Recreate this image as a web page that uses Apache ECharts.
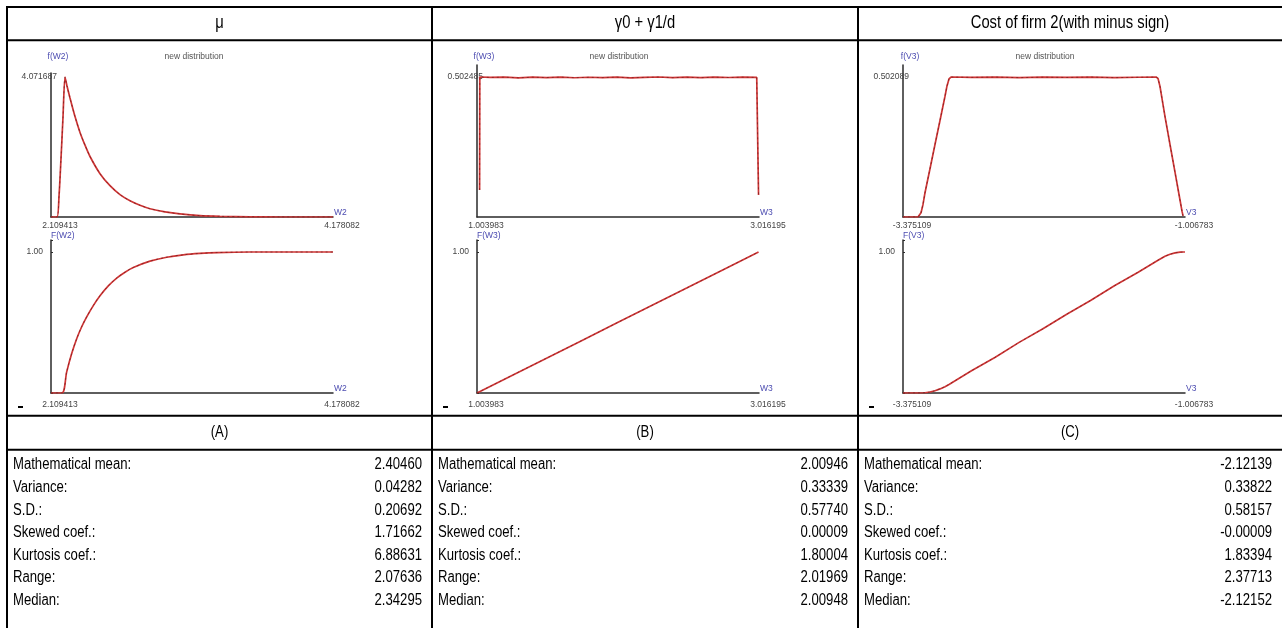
<!DOCTYPE html>
<html><head><meta charset="utf-8">
<script src="https://cdn.jsdelivr.net/npm/echarts@6/dist/echarts.min.js"></script>
<style>html,body{margin:0;padding:0;background:#fff}#c{width:1282px;height:628px}</style>
</head><body><div id="c"></div><script>
// ---------------- data ----------------
const headers = ['μ', 'γ0 + γ1/d', 'Cost of firm 2(with minus sign)'];
const panelLabels = ['(A)', '(B)', '(C)'];
const statNames = ['Mathematical mean:', 'Variance:', 'S.D.:', 'Skewed coef.:', 'Kurtosis coef.:', 'Range:', 'Median:'];
const statsA = ['2.40460', '0.04282', '0.20692', '1.71662', '6.88631', '2.07636', '2.34295'];
const statsB = ['2.00946', '0.33339', '0.57740', '0.00009', '1.80004', '2.01969', '2.00948'];
const statsC = ['-2.12139', '0.33822', '0.58157', '-0.00009', '1.83394', '2.37713', '-2.12152'];

const plotTitle = 'new distribution';
const pdfNames = ['f(W2)', 'f(W3)', 'f(V3)'];
const cdfNames = ['F(W2)', 'F(W3)', 'F(V3)'];
const xNames = ['W2', 'W3', 'V3'];

const xRangeA = [2.109413, 4.178082];
const xRangeB = [1.003983, 3.016195];
const xRangeC = [-3.375109, -1.006783];
const xTickLabelsA = ['2.109413', '4.178082'];
const xTickLabelsB = ['1.003983', '3.016195'];
const xTickLabelsC = ['-3.375109', '-1.006783'];
const pdfPeaks = [4.071687, 0.502485, 0.502089];
const pdfPeakLabels = ['4.071687', '0.502485', '0.502089'];
const cdfTopLabel = '1.00';

const pdfA = [[2.1094,0],[2.1534,0],[2.1681,0.6],[2.1828,1.7],[2.1974,2.9],[2.2121,4.07],[2.2268,3.81],[2.2488,3.46],[2.2855,2.92],[2.3222,2.46],[2.3588,2.09],[2.3955,1.76],[2.4689,1.26],[2.5422,0.91],[2.6156,0.65],[2.6889,0.47],[2.7623,0.34],[2.8357,0.24],[2.9457,0.15],[3.0558,0.09],[3.2025,0.04],[3.3492,0.02],[3.5693,0.005],[3.7893,0],[4.1781,0]];
const cdfA = [[2.1094,0],[2.1901,0],[2.2246,0.15],[2.2613,0.28],[2.2979,0.385],[2.3346,0.47],[2.3713,0.54],[2.4197,0.62],[2.4689,0.69],[2.5298,0.76],[2.5914,0.815],[2.6523,0.857],[2.7132,0.89],[2.8357,0.935],[2.9582,0.963],[3.0800,0.98],[3.2025,0.99],[3.3250,0.996],[3.5692,1.0],[4.178,1.0]];
const pdfB = [[1.0225,0.097],[1.0240,0.5025],[1.10,0.5010],[1.20,0.5020],[1.30,0.4995],[1.40,0.5018],[1.50,0.5005],[1.60,0.5022],[1.70,0.4998],[1.80,0.5015],[1.90,0.5003],[2.00,0.5021],[2.10,0.4996],[2.20,0.5012],[2.30,0.5024],[2.40,0.5001],[2.50,0.5017],[2.60,0.4999],[2.70,0.5020],[2.80,0.5006],[2.90,0.5019],[3.00,0.5010],[3.010,0.5025],[3.013,0.079]];
const cdfB = [[1.004,0],[1.25,0.123],[1.5,0.247],[1.75,0.371],[2.0,0.496],[2.25,0.620],[2.5,0.744],[2.75,0.869],[3.013,1.0]];
const pdfC = [[-3.3751,0],[-3.2491,0],[-3.2365,0.004],[-3.2239,0.015],[-3.2071,0.045],[-3.1904,0.087],[-3.1484,0.173],[-3.1064,0.26],[-3.0644,0.346],[-3.0224,0.433],[-3.0056,0.47],[-2.9888,0.495],[-2.9720,0.502],[-2.8,0.5008],[-2.6,0.5018],[-2.4,0.4998],[-2.2,0.5015],[-2.0,0.5004],[-1.8,0.5019],[-1.6,0.4997],[-1.4,0.5012],[-1.2503,0.502],[-1.2335,0.497],[-1.2167,0.468],[-1.1747,0.36],[-1.1328,0.26],[-1.0904,0.16],[-1.0484,0.06],[-1.0316,0.02],[-1.0232,0.004]];
const cdfC = [[-3.3751,0],[-3.2491,0],[-3.1904,0.0018],[-3.1484,0.0073],[-3.1064,0.0163],[-3.0644,0.029],[-3.0224,0.045],[-2.9888,0.061],[-2.8,0.158],[-2.6,0.254],[-2.4,0.359],[-2.2,0.455],[-2.0,0.559],[-1.8,0.656],[-1.6,0.760],[-1.4,0.857],[-1.2335,0.942],[-1.1747,0.970],[-1.1328,0.984],[-1.0904,0.994],[-1.0484,0.9992],[-1.0232,1.0],[-1.0068,1.0]];

// ---------------- layout ----------------
function hasFont(name){
  const c=document.createElement('canvas').getContext('2d');
  const s='Mathematical mean: 0123456789';
  c.font='20px monospace'; const a=c.measureText(s).width;
  c.font='20px "'+name+'", monospace'; const b=c.measureText(s).width;
  return Math.abs(a-b)>0.5;
}
const narrow = hasFont('Liberation Sans Narrow');
const TF = narrow ? '"Liberation Sans Narrow", "Liberation Sans", Arial, sans-serif' : '"Liberation Sans", Arial, sans-serif';
const SX = narrow ? 1 : 0.82;
const SMALL = '"Liberation Sans", Arial, sans-serif';
const FS = 8.5;

const panels = [
  {x: xRangeA, ticks: xTickLabelsA, pdf: pdfA, cdf: cdfA, sPdf: 0.25, sCdf: 0.3},
  {x: xRangeB, ticks: xTickLabelsB, pdf: pdfB, cdf: cdfB, sPdf: false, sCdf: false},
  {x: xRangeC, ticks: xTickLabelsC, pdf: pdfC, cdf: cdfC, sPdf: false, sCdf: false}
];
const colLeft = [7, 432, 858];
const axisX = [51, 477, 903];
const plotW = 282;
const upTop = [73, 65, 65];
const upBottom = 217, peakY = 77;
const loTop = 240, loBottom = 393, oneY = 252;
const AXIS = '#2a2a2a', BLUE = '#4b4bb0', LAB = '#444', RED = '#cf3636';

const grids = [], xAxes = [], yAxes = [], series = [];
panels.forEach((p, i) => {
  const near = (a, b) => Math.abs(a - b) < 1e-9;
  const xFmt = v => near(v, p.x[0]) ? p.ticks[0] : (near(v, p.x[1]) ? p.ticks[1] : '');
  grids.push({left: axisX[i], top: upTop[i], width: plotW, height: upBottom - upTop[i], containLabel: false, outerBoundsMode: 'none'});
  grids.push({left: axisX[i], top: loTop, width: plotW, height: loBottom - loTop, containLabel: false, outerBoundsMode: 'none'});
  const gU = i * 2, gL = i * 2 + 1;
  [gU, gL].forEach((g, k) => {
    xAxes.push({
      type: 'value', gridIndex: g, min: p.x[0], max: p.x[1],
      name: xNames[i], nameLocation: 'end', nameGap: 1,
      nameTextStyle: {color: BLUE, fontSize: FS, fontFamily: SMALL, verticalAlign: 'bottom', align: 'left'},
      axisLine: {show: true, onZero: false, lineStyle: {color: AXIS, width: 1.5}},
      axisTick: {show: false}, splitLine: {show: false},
      axisLabel: {show: true, showMinLabel: true, showMaxLabel: true, formatter: xFmt, fontSize: FS, fontFamily: SMALL, color: LAB,
        margin: k === 0 ? 4 : 7, padding: [0, 0, 0, 18]}
    });
  });
  const peak = pdfPeaks[i];
  const upMax = peak * (upBottom - upTop[i]) / (upBottom - peakY);
  yAxes.push({
    type: 'value', gridIndex: gU, min: 0, max: upMax, interval: peak,
    name: pdfNames[i], nameLocation: 'end', nameGap: upTop[i] - 57,
    nameTextStyle: {color: BLUE, fontSize: FS, fontFamily: SMALL, verticalAlign: 'middle', align: 'center', padding: [0, 0, 0, 14]},
    axisLine: {show: true, lineStyle: {color: AXIS, width: 1.5}},
    axisTick: {show: false}, splitLine: {show: false},
    axisLabel: {showMinLabel: true, showMaxLabel: true, formatter: v => near(v, peak) ? pdfPeakLabels[i] : '', fontSize: FS, fontFamily: SMALL, color: LAB, margin: -6}
  });
  const loMax = (loBottom - loTop) / (loBottom - oneY);
  yAxes.push({
    type: 'value', gridIndex: gL, min: 0, max: loMax, interval: 1,
    name: cdfNames[i], nameLocation: 'end', nameGap: 4,
    nameTextStyle: {color: BLUE, fontSize: FS, fontFamily: SMALL, verticalAlign: 'middle', align: 'left'},
    axisLine: {show: true, lineStyle: {color: AXIS, width: 1.5}},
    axisTick: {show: true, inside: true, length: 2, lineStyle: {color: AXIS}}, splitLine: {show: false},
    axisLabel: {formatter: v => near(v, 1) ? cdfTopLabel : '', fontSize: FS, fontFamily: SMALL, color: LAB, margin: 8}
  });
  [[gU, p.pdf, p.sPdf], [gL, p.cdf, p.sCdf]].forEach(([g, d, sm]) => {
    series.push({type: 'line', xAxisIndex: g, yAxisIndex: g, data: d, showSymbol: false, smooth: sm,
      lineStyle: {color: RED, width: 1.7}, silent: true, z: 3});
    series.push({type: 'line', xAxisIndex: g, yAxisIndex: g, data: d, showSymbol: false, smooth: sm,
      lineStyle: {color: '#5a1616', width: 0.8, type: [2, 3], opacity: 0.7}, silent: true, z: 4});
  });
});

// ---------------- table graphics ----------------
const g = [];
const line = (x1, y1, x2, y2) => g.push({type: 'line', shape: {x1, y1, x2, y2}, style: {stroke: '#000', lineWidth: 2}, silent: true});
[7, 40.3, 415.7, 449.7].forEach(y => line(6, y, 1282, y));
[7, 432, 858].forEach(x => line(x, 6, x, 628));
const txt = (t, x, y, align, size, fill, font, sx) => g.push({type: 'text', x, y, scaleX: sx, silent: true,
  style: {text: t, fontSize: size, fontFamily: font, fill, align, verticalAlign: 'middle', textAlign: align, textVerticalAlign: 'middle'}});
const colRight = [432, 858, 1282];
const allStats = [statsA, statsB, statsC];
for (let i = 0; i < 3; i++) {
  const cx = (colLeft[i] + colRight[i]) / 2;
  txt(headers[i], cx, 23.5, 'center', 18, '#000', TF, SX);
  txt(panelLabels[i], cx, 432.7, 'center', 16, '#000', TF, SX);
  statNames.forEach((n, r) => {
    const y = 465 + r * 22.6;
    txt(n, colLeft[i] + 6, y, 'left', 16, '#000', TF, SX);
    txt(allStats[i][r], colRight[i] - 10, y, 'right', 16, '#000', TF, SX);
  });
  txt(plotTitle, colLeft[i] + 187, 57, 'center', FS, '#555', SMALL, 1);
  g.push({type: 'rect', shape: {x: colLeft[i] + 11, y: 406, width: 5, height: 2}, style: {fill: '#000'}, silent: true});
}

const chart = echarts.init(document.getElementById('c'));
chart.setOption({
  animation: false,
  backgroundColor: '#fff',
  grid: grids, xAxis: xAxes, yAxis: yAxes, series,
  graphic: {elements: g}
});
</script></body></html>
